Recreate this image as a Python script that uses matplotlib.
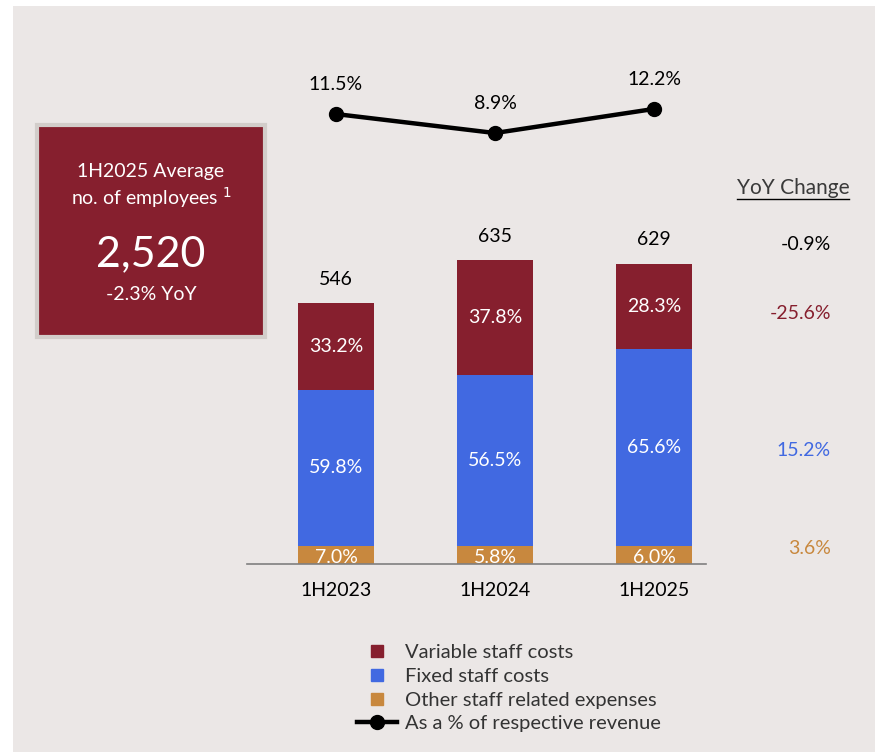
import matplotlib
matplotlib.use("Agg")
import matplotlib.pyplot as plt
import matplotlib.patches as patches
from matplotlib.lines import Line2D

plt.rcParams['font.family'] = ['Lato', 'DejaVu Sans']

# data
periods = ['1H2023', '1H2024', '1H2025']
totals = [546, 635, 629]
variable_pct = [33.2, 37.8, 28.3]
fixed_pct = [59.8, 56.5, 65.6]
other_pct = [7.0, 5.8, 6.0]
revenue_pct = [11.5, 8.9, 12.2]
yoy_labels = ['-0.9%', '-25.6%', '15.2%', '3.6%']

RED = '#861f2e'
BLUE = '#4169e1'
ORANGE = '#c8883e'
BG = '#ebe7e6'
FS = 14

W, H = 875, 752
fig = plt.figure(figsize=(W / 100, H / 100), dpi=100)
fig.patch.set_facecolor('white')

# grey panel
fig.add_artist(patches.Rectangle((13 / W, 0), 1, 1 - 6 / H, transform=fig.transFigure,
                                 facecolor=BG, edgecolor='none', zorder=0))

# main axes: baseline at y=564 px, categories at 336/495/654 px
ax_left, ax_right = 247, 706
ax_bottom, ax_top = H - 564, H - 6
ax = fig.add_axes([ax_left / W, ax_bottom / H, (ax_right - ax_left) / W, (ax_top - ax_bottom) / H])
ax.set_facecolor('none')
x = list(range(len(periods)))
ax.set_xlim(-(336 - ax_left) / 159, (ax_right - 336) / 159)
ax.set_ylim(0, (ax_top - ax_bottom) / 0.478)

other = [t * p / 100 for t, p in zip(totals, other_pct)]
fixed = [t * p / 100 for t, p in zip(totals, fixed_pct)]
variable = [t * p / 100 for t, p in zip(totals, variable_pct)]
bottom_fixed = other
bottom_var = [o + f for o, f in zip(other, fixed)]

bw = 76 / 159
ax.bar(x, other, bw, color=ORANGE, zorder=2)
ax.bar(x, fixed, bw, bottom=bottom_fixed, color=BLUE, zorder=2)
ax.bar(x, variable, bw, bottom=bottom_var, color=RED, zorder=2)

for i in x:
    ax.text(i, other[i] / 2 - 5, f'{other_pct[i]:.1f}%', ha='center', va='center',
            color='white', fontsize=FS, zorder=3, clip_on=True)
    ax.text(i, bottom_fixed[i] + fixed[i] / 2, f'{fixed_pct[i]:.1f}%', ha='center', va='center',
            color='white', fontsize=FS, zorder=3)
    ax.text(i, bottom_var[i] + variable[i] / 2, f'{variable_pct[i]:.1f}%', ha='center', va='center',
            color='white', fontsize=FS, zorder=3)
    ax.annotate(str(totals[i]), (i, totals[i]), xytext=(0, 17), textcoords='offset points',
                ha='center', va='center', fontsize=FS, color='black')

for s in ['top', 'right', 'left']:
    ax.spines[s].set_visible(False)
ax.spines['bottom'].set_color('#7f7f7f')
ax.spines['bottom'].set_linewidth(1.2)
ax.set_yticks([])
ax.set_xticks(x)
ax.set_xticklabels(periods, fontsize=FS)
ax.tick_params(axis='x', length=0, pad=13)

# revenue % line on its own scale
ax2 = ax.twinx()
ax2.set_ylim(-366 / 7.3, (ax_top - ax_bottom - 366) / 7.3)
ax2.plot(x, revenue_pct, color='black', lw=3.2, marker='o', markersize=10)
for i in x:
    ax2.annotate(f'{revenue_pct[i]:.1f}%', (i, revenue_pct[i]), xytext=(0, 21),
                 textcoords='offset points', ha='center', va='center', fontsize=FS)
ax2.axis('off')

# employees box
box = patches.Rectangle((37 / W, 1 - 337 / H), 228 / W, 212 / H, transform=fig.transFigure,
                        facecolor=RED, edgecolor='#d2cdca', linewidth=3, zorder=1)
fig.add_artist(box)
bx = 151 / W
fig.text(bx, 1 - 172 / H, '1H2025 Average', ha='center', va='center', color='white', fontsize=FS)
fig.text(bx, 1 - 198 / H, 'no. of employees $^1$', ha='center', va='center', color='white', fontsize=FS)
fig.text(bx, 1 - 254 / H, '2,520', ha='center', va='center', color='white', fontsize=31)
fig.text(bx, 1 - 294 / H, '-2.3% YoY', ha='center', va='center', color='white', fontsize=FS)

# YoY column
fig.text(793 / W, 1 - 188 / H, 'YoY Change', ha='center', va='center', color='#3a3a3a', fontsize=15)
fig.add_artist(Line2D([737 / W, 849 / W], [1 - 199 / H, 1 - 199 / H], transform=fig.transFigure,
                      color='black', lw=1))
yoy_colors = ['black', RED, BLUE, ORANGE]
yoy_y = [244, 313, 451, 548]
for lab, c, yy in zip(yoy_labels, yoy_colors, yoy_y):
    fig.text(831 / W, 1 - yy / H, lab, ha='right', va='center', color=c, fontsize=FS)

# legend
handles = [
    Line2D([], [], marker='s', ls='none', color=RED, markersize=9),
    Line2D([], [], marker='s', ls='none', color=BLUE, markersize=9),
    Line2D([], [], marker='s', ls='none', color=ORANGE, markersize=9),
    Line2D([], [], marker='o', color='black', lw=3.2, markersize=10),
]
labels = ['Variable staff costs', 'Fixed staff costs', 'Other staff related expenses',
          'As a % of respective revenue']
fig.legend(handles, labels, loc='upper left', bbox_to_anchor=(349 / W, 1 - 636 / H),
           frameon=False, fontsize=FS + 0.5, labelspacing=0.33, handlelength=2.0,
           handletextpad=0.4, borderaxespad=0, labelcolor='#333333')

fig.savefig('out.png', dpi=100, facecolor=fig.get_facecolor())
